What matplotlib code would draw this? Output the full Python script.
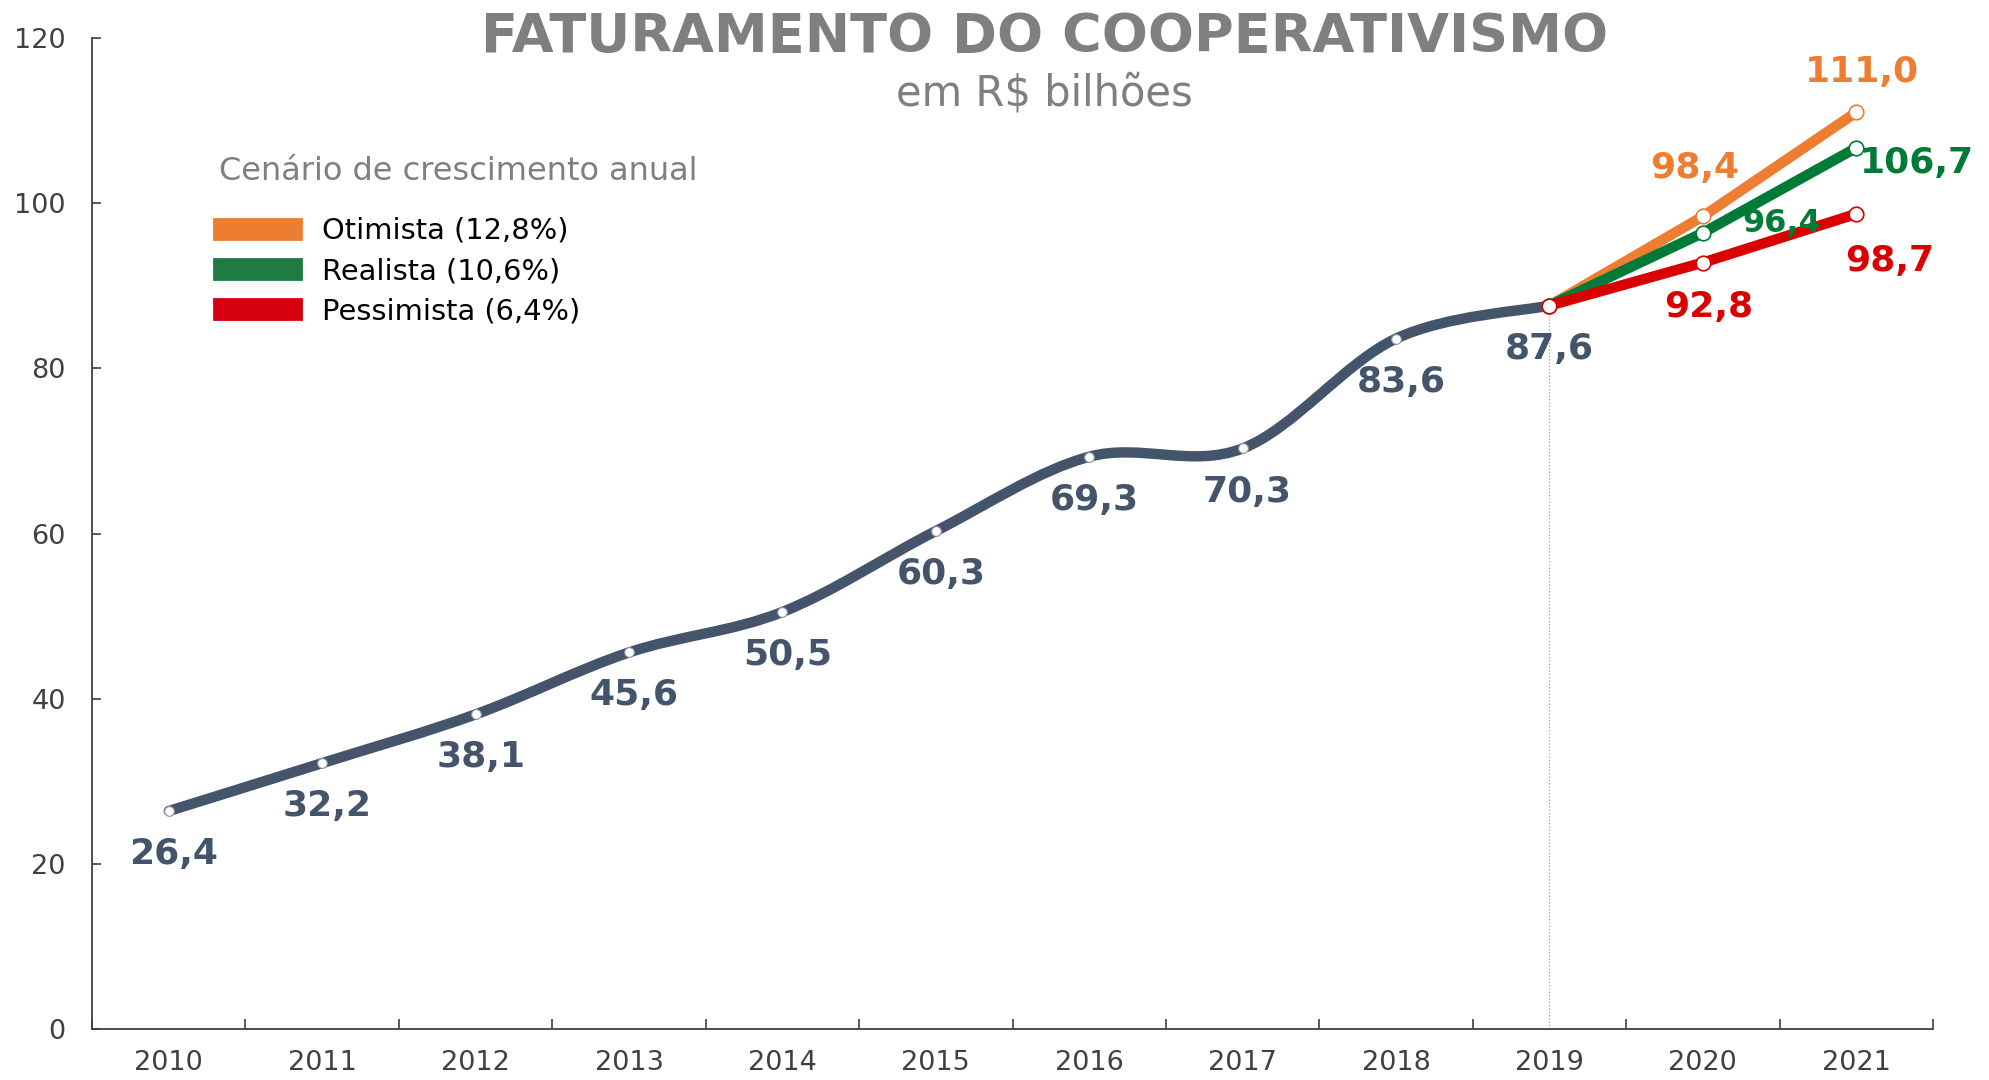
import matplotlib.pyplot as plt
import numpy as np
from matplotlib.path import Path
from matplotlib.patches import PathPatch, Patch

# dados
anos = ['2010', '2011', '2012', '2013', '2014', '2015', '2016', '2017',
        '2018', '2019', '2020', '2021']
historico = [26.4, 32.2, 38.1, 45.6, 50.5, 60.3, 69.3, 70.3, 83.6, 87.6]
rot_hist = ['26,4', '32,2', '38,1', '45,6', '50,5', '60,3', '69,3', '70,3',
            '83,6', '87,6']
cenarios = ['Otimista (12,8%)', 'Realista (10,6%)', 'Pessimista (6,4%)']
proj_otimista = [87.6, 98.4, 111.0]
proj_realista = [87.6, 96.4, 106.7]
proj_pessimista = [87.6, 92.8, 98.7]
rot_otimista = ['98,4', '111,0']
rot_realista = ['96,4', '106,7']
rot_pessimista = ['92,8', '98,7']

# estilo
cor_hist = '#44546A'
cor_cen = ['#ED7D31', '#007A37', '#DA0000']
cor_leg = ['#ED7D31', '#1E7B42', '#D7000F']
cinza = '#7F7F7F'
eixo = '#404040'


def suave(x, y):
    # curva suavizada tipo Excel (bezier com pontos de controle 1/6)
    x = np.asarray(x, float)
    y = np.asarray(y, float)
    xp = np.r_[x[0], x, x[-1]]
    yp = np.r_[y[0], y, y[-1]]
    verts = [(x[0], y[0])]
    codes = [Path.MOVETO]
    for i in range(len(x) - 1):
        c1 = (x[i] + (xp[i+2] - xp[i]) / 6, y[i] + (yp[i+2] - yp[i]) / 6)
        c2 = (x[i+1] - (xp[i+3] - xp[i+1]) / 6, y[i+1] - (yp[i+3] - yp[i+1]) / 6)
        verts += [c1, c2, (x[i+1], y[i+1])]
        codes += [Path.CURVE4] * 3
    return Path(verts, codes)


fig = plt.figure(figsize=(19.89, 10.80), dpi=100)
ax = fig.add_axes([0.0463, 0.0472, 0.9255, 0.9176])

xh = np.arange(len(historico))
i0 = len(historico) - 1
xp = np.arange(i0, i0 + 3)

# linha de referencia em 2019
ax.vlines(i0, 0, historico[-1], color='#A0A0A0', lw=0.9, ls=':', zorder=1)

ax.add_patch(PathPatch(suave(xh, historico), fill=False, ec=cor_hist, lw=7.5,
                       capstyle='round', zorder=2))
ax.plot(xh, historico, 'o', ms=7, mfc='white', mec='#8A94A3', mew=0.8, zorder=3)

projs = [proj_otimista, proj_realista, proj_pessimista]
for k, p in enumerate(projs):
    ax.plot(xp, p, '-', color=cor_cen[k], lw=7.5, solid_capstyle='round',
            zorder=4 + k)
    ax.plot(xp, p, 'o', ms=10.5, mfc='white', mec=cor_cen[k], mew=1.2,
            zorder=4 + k)

# rotulos
for i, (v, t) in enumerate(zip(historico, rot_hist)):
    dx = 0 if i == i0 else 3.6
    ax.annotate(t, (i, v), xytext=(dx, -31), textcoords='offset points',
                ha='center', va='center', fontsize=26, fontweight='bold',
                color=cor_hist, zorder=8)

rots = [rot_otimista, rot_realista, rot_pessimista]
desl = [[(-6, 35), (4, 29)], [(57, 7), (44, -11)], [(4, -32), (24, -34)]]
tam = [[26, 26], [23, 26], [26, 26]]
for k in range(3):
    for j in range(2):
        ax.annotate(rots[k][j], (xp[j + 1], projs[k][j + 1]),
                    xytext=desl[k][j], textcoords='offset points',
                    ha='center', va='center', fontsize=tam[k][j],
                    fontweight='bold', color=cor_cen[k], zorder=9)

# eixos
ax.set_xlim(-0.5, len(anos) - 0.5)
ax.set_ylim(0, 120)
ax.set_yticks(np.arange(0, 121, 20))
ax.set_xticks(np.arange(-0.5, len(anos)), labels=[])
ax.set_xticks(np.arange(len(anos)), labels=anos, minor=True)
ax.tick_params(axis='x', which='major', direction='in', length=7,
               width=1.2, color=eixo)
ax.tick_params(axis='x', which='minor', length=0, pad=15, labelsize=19.5,
               labelcolor=eixo)
ax.tick_params(axis='y', direction='in', length=6.5, width=1.2, color=eixo,
               pad=19, labelsize=19.5, labelcolor=eixo)
for s in ['top', 'right']:
    ax.spines[s].set_visible(False)
for s in ['left', 'bottom']:
    ax.spines[s].set_color(eixo)
    ax.spines[s].set_linewidth(1.3)

# legenda
handles = [Patch(facecolor=c, edgecolor=c, lw=2, joinstyle='round')
           for c in cor_leg]
leg = ax.legend(handles, cenarios, loc='upper left',
                bbox_to_anchor=(214 / 1989, 1 - 217 / 1080),
                bbox_transform=fig.transFigure, frameon=False, fontsize=20.8,
                handlelength=3.0, handleheight=0.7, handletextpad=0.75,
                labelspacing=0.42, borderpad=0, borderaxespad=0)
fig.text(219 / 1989, 1 - 172 / 1080, 'Cenário de crescimento anual',
         fontsize=23, color=cinza, ha='left', va='center')

# titulo
fig.text(0.525, 1 - 37 / 1080, 'FATURAMENTO DO COOPERATIVISMO', fontsize=39,
         fontweight='bold', color=cinza, ha='center', va='center')
fig.text(0.525, 1 - 93 / 1080, 'em R$ bilhões', fontsize=30, color=cinza,
         ha='center', va='center')

plt.savefig('out.png', dpi=100)
